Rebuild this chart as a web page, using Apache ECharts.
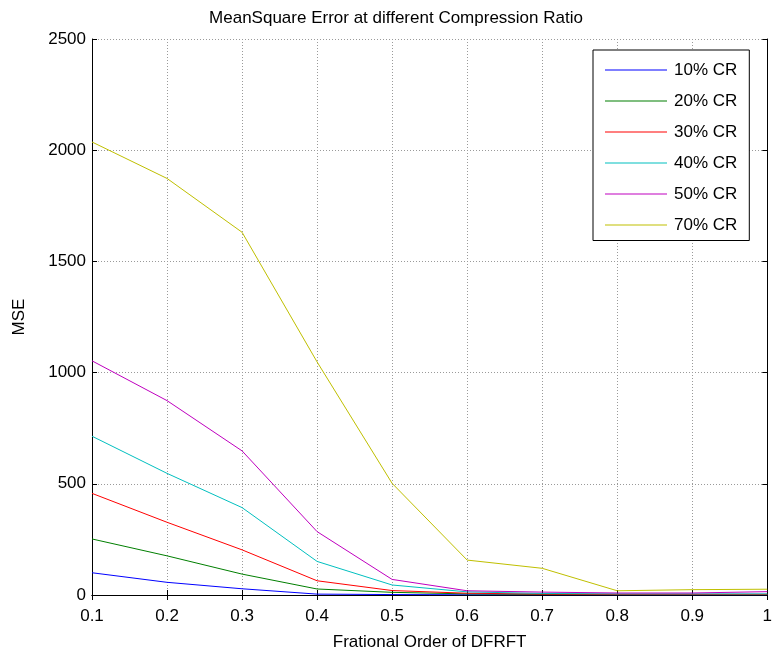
<!DOCTYPE html>
<html>
<head>
<meta charset="utf-8">
<script src="https://cdn.jsdelivr.net/npm/echarts@6/dist/echarts.min.js"></script>
<style>
    html, body { margin: 0; padding: 0; background: #fff; }
    #chart { width: 775px; height: 656px; }
</style>
</head>
<body>
<div id="chart"></div>
<script>
// x values (fractional order)
const orders = [0.1, 0.2, 0.3, 0.4, 0.5, 0.6, 0.7, 0.8, 0.9, 1.0];

// MSE per compression ratio
const cr10 = [100, 57, 28, 4, 2, 1, 1, 1, 1, 1];
const cr20 = [252, 176, 94, 27, 12, 5, 3, 2, 2, 2];
const cr30 = [457, 327, 203, 64, 20, 8, 4, 3, 3, 3];
const cr40 = [714, 547, 393, 151, 45, 14, 7, 5, 5, 5];
const cr50 = [1053, 874, 648, 285, 70, 19, 13, 9, 9, 15];
const cr70 = [2037, 1873, 1631, 1048, 502, 157, 120, 19, 24, 26];

const seriesNames = ['10% CR', '20% CR', '30% CR', '40% CR', '50% CR', '70% CR'];
const seriesData = [cr10, cr20, cr30, cr40, cr50, cr70];
const seriesColors = ['#0000ff', '#007f00', '#ff0000', '#00bfbf', '#bf00bf', '#bfbf00'];

const font = 'Liberation Sans, Arial, sans-serif';

const chart = echarts.init(document.getElementById('chart'));

const gridLine = { show: true, lineStyle: { color: '#9a9a9a', type: [1, 2], width: 1 } };

const option = {
    animation: false,
    backgroundColor: '#fff',
    textStyle: { fontFamily: font },
    title: {
        text: 'MeanSquare Error at different Compression Ratio',
        left: 391,
        textAlign: 'center',
        top: 5,
        textStyle: { fontSize: 17, fontWeight: 'normal', color: '#000', fontFamily: font },
    },
    legend: {
        orient: 'vertical',
        left: 593,
        top: 50,
        width: 166,
        padding: [11.5, 12, 7, 12],
        itemGap: 14,
        itemWidth: 62,
        itemHeight: 1,
        icon: 'rect',
        borderColor: '#000',
        borderWidth: 1,
        backgroundColor: '#fff',
        textStyle: { fontSize: 17, color: '#000', fontFamily: font, padding: [0, 0, 0, 2] },
        data: seriesNames,
    },
    grid: { left: 92, right: 7, top: 39, bottom: 60 },
    xAxis: [
        {
            type: 'value',
            min: 0.1,
            max: 1,
            interval: 0.1,
            name: 'Frational Order of DFRFT',
            nameLocation: 'middle',
            nameGap: 39,
            nameTextStyle: { fontSize: 17, color: '#000', fontFamily: font },
            axisLine: { show: true, lineStyle: { color: '#000', width: 1 } },
            axisTick: { show: true, inside: true, length: 5, lineStyle: { color: '#000' } },
            axisLabel: {
                fontSize: 17,
                color: '#000',
                margin: 13,
                formatter: (v) => String(+v.toFixed(1)),
            },
            splitLine: gridLine,
        },
        {
            type: 'value',
            position: 'top',
            min: 0.1,
            max: 1,
            interval: 0.1,
            axisLine: { show: true, lineStyle: { color: '#000', width: 1 } },
            axisTick: { show: true, inside: true, length: 5, lineStyle: { color: '#000' } },
            axisLabel: { show: false },
            splitLine: { show: false },
        },
    ],
    yAxis: [
        {
            type: 'value',
            min: 0,
            max: 2500,
            interval: 500,
            name: 'MSE',
            nameLocation: 'middle',
            nameGap: 64,
            nameTextStyle: { fontSize: 17, color: '#000', fontFamily: font },
            axisLine: { show: true, lineStyle: { color: '#000', width: 1 } },
            axisTick: { show: true, inside: true, length: 5, lineStyle: { color: '#000' } },
            axisLabel: { fontSize: 17, color: '#000', margin: 6, formatter: (v) => String(v) },
            splitLine: gridLine,
        },
        {
            type: 'value',
            position: 'right',
            min: 0,
            max: 2500,
            interval: 500,
            axisLine: { show: true, lineStyle: { color: '#000', width: 1 } },
            axisTick: { show: true, inside: true, length: 5, lineStyle: { color: '#000' } },
            axisLabel: { show: false },
            splitLine: { show: false },
        },
    ],
    series: seriesNames.map((name, i) => ({
        name: name,
        type: 'line',
        symbol: 'none',
        showSymbol: false,
        color: seriesColors[i],
        lineStyle: { color: seriesColors[i], width: 1 },
        data: orders.map((x, j) => [x, seriesData[i][j]]),
    })),
};

chart.setOption(option);
</script>
</body>
</html>
